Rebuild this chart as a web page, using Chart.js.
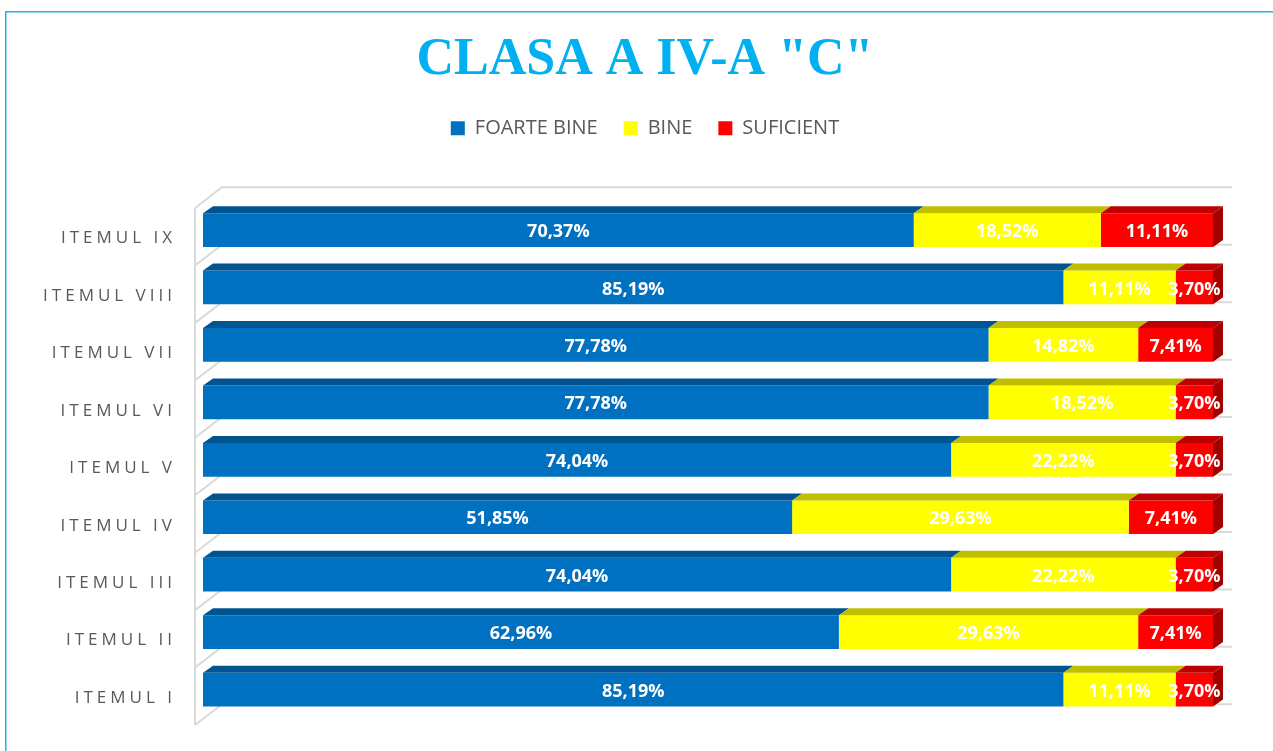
<!DOCTYPE html>
<html>
<head>
<meta charset="utf-8">
<script src="https://cdn.jsdelivr.net/npm/chart.js@4/dist/chart.umd.min.js"></script>
<style>
  html, body { margin: 0; padding: 0; background: #ffffff; overflow: hidden; }
  canvas { display: block; }
</style>
</head>
<body>
<canvas id="chart" width="1273" height="751" style="width:1273px;height:751px"></canvas>
<script>
// Item names, bottom to top
const categories = ['ITEMUL I', 'ITEMUL II', 'ITEMUL III', 'ITEMUL IV', 'ITEMUL V',
                    'ITEMUL VI', 'ITEMUL VII', 'ITEMUL VIII', 'ITEMUL IX'];
const seriesNames = ['FOARTE BINE', 'BINE', 'SUFICIENT'];

// Percentages of pupils per grade, per item
const foarteBine = [85.19, 62.96, 74.04, 51.85, 74.04, 77.78, 77.78, 85.19, 70.37];
const bine       = [11.11, 29.63, 22.22, 29.63, 22.22, 18.52, 14.82, 11.11, 18.52];
const suficient  = [ 3.70,  7.41,  3.70,  7.41,  3.70,  3.70,  7.41,  3.70, 11.11];

const titleText = 'CLASA A IV-A "C"';

const frontColors = ['#0070C0', '#FFFF00', '#FF0000'];
const topColors   = ['#00548F', '#BFBF00', '#BF0000'];
const sideColors  = ['#00457A', '#A3A300', '#A30000'];

// 100% stacked: each bar shows every grade's share of the item total
const rawSeries = [foarteBine, bine, suficient];
const totals = categories.map((_, i) => rawSeries.reduce((s, arr) => s + arr[i], 0));
const shares = rawSeries.map(arr => arr.map((v, i) => v / totals[i] * 100));
const fmt = v => v.toFixed(2).replace('.', ',') + '%';

// 3D geometry offsets (pixels)
const WALL_FRONT = { dx: -8, dy: 6.7 };
const WALL_BACK  = { dx: 19, dy: -14 };
const BAR_DEPTH  = { dx: 10, dy: -7 };

const frameBorder = {
  id: 'frameBorder',
  beforeDraw(chart) {
    const ctx = chart.ctx;
    ctx.save();
    ctx.strokeStyle = '#1FB1EA';
    ctx.lineWidth = 1.5;
    ctx.beginPath();
    ctx.moveTo(5.75, chart.height);
    ctx.lineTo(5.75, 11.75);
    ctx.lineTo(chart.width, 11.75);
    ctx.stroke();
    ctx.restore();
  }
};

function bandEdges(chart) {
  const y = chart.scales.y;
  const p0 = y.getPixelForValue(0), p1 = y.getPixelForValue(1);
  const band = Math.abs(p1 - p0);
  const centers = categories.map((_, i) => y.getPixelForValue(i));
  const tops = centers.map(c => c - band / 2);
  const edges = tops.concat([Math.max(...centers) + band / 2]);
  return Array.from(new Set(edges.map(v => Math.round(v * 100) / 100))).sort((a, b) => a - b);
}

// Category wall: back grid lines, left floor edge and connecting diagonals
const wall3d = {
  id: 'wall3d',
  beforeDatasetsDraw(chart) {
    const ctx = chart.ctx;
    const x = chart.scales.x;
    const left = x.getPixelForValue(0), right = x.getPixelForValue(100);
    const edges = bandEdges(chart);
    const fx = left + WALL_FRONT.dx;
    const bx = left + WALL_BACK.dx;
    const bxr = right + WALL_BACK.dx;
    ctx.save();
    ctx.strokeStyle = '#D9D9D9';
    ctx.lineWidth = 2;
    ctx.lineCap = 'butt';
    ctx.beginPath();
    edges.forEach(e => {
      const fy = e + WALL_FRONT.dy;
      const by = e + WALL_BACK.dy;
      ctx.moveTo(fx, fy);
      ctx.lineTo(bx, by);
      ctx.lineTo(bxr, by);
    });
    ctx.moveTo(fx, edges[0] + WALL_FRONT.dy);
    ctx.lineTo(fx, edges[edges.length - 1] + WALL_FRONT.dy);
    ctx.stroke();
    ctx.restore();
  }
};

// Top and end faces of the bars, then the value labels
const bars3d = {
  id: 'bars3d',
  afterDatasetsDraw(chart) {
    const ctx = chart.ctx;
    const last = chart.data.datasets.length - 1;
    ctx.save();
    chart.data.datasets.forEach((ds, d) => {
      const meta = chart.getDatasetMeta(d);
      meta.data.forEach(bar => {
        const { x, y, base, height } = bar.getProps(['x', 'y', 'base', 'height'], true);
        const x0 = Math.min(x, base), x1 = Math.max(x, base);
        const yt = y - height / 2, yb = y + height / 2;
        ctx.fillStyle = topColors[d];
        ctx.beginPath();
        ctx.moveTo(x0, yt);
        ctx.lineTo(x1, yt);
        ctx.lineTo(x1 + BAR_DEPTH.dx, yt + BAR_DEPTH.dy);
        ctx.lineTo(x0 + BAR_DEPTH.dx, yt + BAR_DEPTH.dy);
        ctx.closePath();
        ctx.fill();
        if (d === last) {
          ctx.fillStyle = sideColors[d];
          ctx.beginPath();
          ctx.moveTo(x1, yt);
          ctx.lineTo(x1 + BAR_DEPTH.dx, yt + BAR_DEPTH.dy);
          ctx.lineTo(x1 + BAR_DEPTH.dx, yb + BAR_DEPTH.dy);
          ctx.lineTo(x1, yb);
          ctx.closePath();
          ctx.fill();
        }
      });
    });
    ctx.font = 'bold 18px "Open Sans"';
    ctx.fillStyle = '#FFFFFF';
    ctx.textAlign = 'center';
    ctx.textBaseline = 'middle';
    chart.data.datasets.forEach((ds, d) => {
      const meta = chart.getDatasetMeta(d);
      meta.data.forEach((bar, i) => {
        const { x, y, base } = bar.getProps(['x', 'y', 'base'], true);
        ctx.fillText(fmt(rawSeries[d][i]), (x + base) / 2, y + 2);
      });
    });
    ctx.restore();
  }
};

// Category names, spaced out and aligned with the wall bands
const itemLabels = {
  id: 'itemLabels',
  afterDraw(chart) {
    const ctx = chart.ctx;
    const y = chart.scales.y;
    ctx.save();
    ctx.font = '17px "Open Sans"';
    ctx.fillStyle = '#595959';
    ctx.textAlign = 'right';
    ctx.textBaseline = 'middle';
    ctx.letterSpacing = '4px';
    categories.forEach((c, i) => {
      ctx.fillText(c, 176, y.getPixelForValue(i) + 8.5);
    });
    ctx.restore();
  }
};

new Chart(document.getElementById('chart'), {
  type: 'bar',
  data: {
    labels: categories,
    datasets: seriesNames.map((name, d) => ({
      label: name,
      data: shares[d],
      backgroundColor: frontColors[d],
      borderWidth: 0,
      categoryPercentage: 1,
      barPercentage: 0.587
    }))
  },
  options: {
    indexAxis: 'y',
    responsive: false,
    animation: false,
    layout: { padding: { left: 17, right: 0, top: 0, bottom: 32.7 } },
    scales: {
      x: {
        type: 'linear',
        position: 'top',
        stacked: true,
        min: 0,
        max: 100,
        grid: { display: false },
        border: { display: false },
        ticks: { display: false },
        afterFit(s) { s.height = 53.1; }
      },
      y: {
        type: 'category',
        stacked: true,
        reverse: true,
        grid: { display: false },
        border: { display: false },
        ticks: { display: false },
        afterFit(s) { s.width = 186; }
      },
      yRight: {
        type: 'category',
        position: 'right',
        grid: { display: false },
        border: { display: false },
        ticks: { display: false },
        afterFit(s) { s.width = 60; }
      }
    },
    plugins: {
      title: {
        display: true,
        text: titleText,
        color: '#00B0F0',
        font: { family: '"Liberation Serif", "Times New Roman", serif', size: 52, weight: 'bold', lineHeight: 1.1 },
        padding: { top: 32.4, bottom: 2.6 }
      },
      legend: {
        display: true,
        position: 'top',
        labels: {
          boxWidth: 14,
          boxHeight: 14,
          padding: 26,
          color: '#595959',
          font: { family: '"Open Sans"', size: 20 }
        }
      },
      tooltip: { enabled: false }
    }
  },
  plugins: [frameBorder, wall3d, bars3d, itemLabels]
});
</script>
</body>
</html>
